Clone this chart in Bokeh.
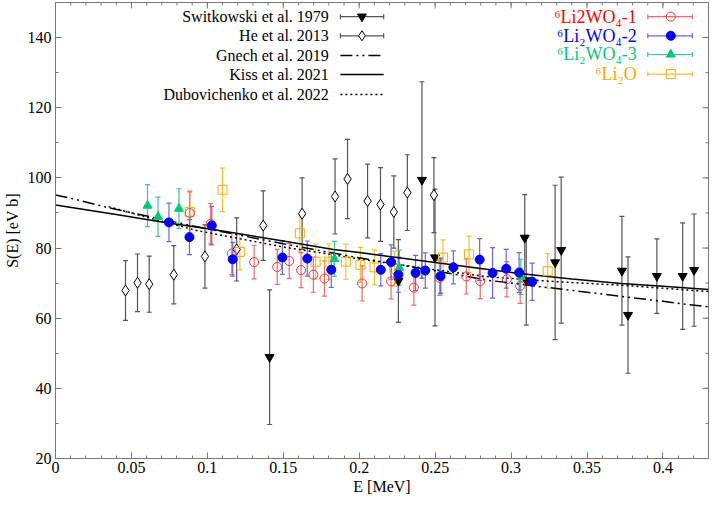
import numpy as np
from bokeh.plotting import figure
from bokeh.models import ColumnDataSource, Whisker, TeeHead, FixedTicker, Range1d
from bokeh.embed import file_html
from bokeh.resources import INLINE
from bokeh.core.properties import value

FONT = "Liberation Serif"

# ---------------- axis ticks ----------------
x_ticks = [0, 0.05, 0.1, 0.15, 0.2, 0.25, 0.3, 0.35, 0.4]
x_tick_labels = ["0", "0.05", "0.1", "0.15", "0.2", "0.25", "0.3", "0.35", "0.4"]
y_ticks = [20, 40, 60, 80, 100, 120, 140]
y_tick_labels = ["20", "40", "60", "80", "100", "120", "140"]

# ---------------- theory curves ----------------
kiss_E = [0, 0.02, 0.042, 0.07, 0.108, 0.15, 0.183, 0.2, 0.25, 0.285, 0.304, 0.34, 0.3725, 0.4, 0.43]
kiss_S = [92.3, 90.9, 89.4, 87.4, 85.0, 82.0, 79.6, 78.7, 75.9, 73.9, 72.8, 71.2, 69.9, 69.1, 68.2]

gnech_E = [0, 0.012, 0.033, 0.0525, 0.093, 0.15, 0.2, 0.25, 0.285, 0.304, 0.35, 0.4, 0.43]
gnech_S = [95.1, 94.0, 91.7, 89.8, 86.1, 81.2, 77.2, 73.5, 70.8, 69.8, 67.4, 64.8, 63.2]

dubo_E = [0.035, 0.06, 0.093, 0.15, 0.2, 0.25, 0.285, 0.33, 0.3725, 0.43]
dubo_S = [91.8, 88.8, 85.0, 80.3, 76.9, 73.8, 71.8, 70.4, 69.4, 67.6]

# ---------------- Switkowski et al. 1979 ----------------
swit_E = [0.141, 0.2258, 0.2413, 0.2499, 0.309, 0.310, 0.329, 0.333, 0.373, 0.377, 0.396, 0.413, 0.4205]
swit_S = [48.9, 70.6, 99.4, 77.3, 82.9, 70.8, 75.9, 79.4, 73.5, 60.9, 72.0, 72.0, 73.7]
swit_err = [19.2, 11.8, 28.0, 19.5, 12.3, 12.8, 22.0, 20.8, 15.5, 16.6, 10.6, 15.2, 16.0]

# ---------------- He et al. 2013 ----------------
he_E = [0.0461, 0.054, 0.0617, 0.0779, 0.0984, 0.1193, 0.1368, 0.1624, 0.1841, 0.1923,
        0.2055, 0.214, 0.2228, 0.2317, 0.2492]
he_S = [67.9, 70.1, 69.7, 72.4, 77.6, 79.6, 86.4, 89.8, 94.7, 99.7,
        93.4, 92.4, 90.3, 95.8, 95.1]
he_err = [8.5, 8.2, 8.0, 8.3, 9.0, 9.0, 9.9, 10.2, 10.7, 11.3,
          10.5, 10.5, 10.3, 10.8, 10.7]

# ---------------- 6Li2WO4-1 ----------------
w1_E = [0.0884, 0.1022, 0.1161, 0.1308, 0.146, 0.1539, 0.1617, 0.1698, 0.1771, 0.2019,
        0.221, 0.236, 0.253, 0.2705, 0.2797, 0.2972, 0.306]
w1_S = [90.0, 86.9, 78.4, 76.0, 74.6, 76.3, 73.7, 72.4, 71.3, 69.9,
        70.5, 68.7, 71.5, 71.9, 70.6, 71.1, 69.2]
w1_err = [6.0, 5.8, 6.0, 4.8, 5.0, 5.0, 5.0, 5.0, 5.0, 5.0,
          5.0, 5.0, 5.0, 5.0, 5.0, 5.0, 5.0]

# ---------------- 6Li2WO4-2 ----------------
w2_E = [0.0747, 0.0882, 0.1029, 0.1167, 0.1494, 0.1658, 0.1816, 0.2142, 0.221, 0.2258,
        0.2371, 0.2435, 0.2535, 0.262, 0.2793, 0.2878, 0.2968, 0.3053, 0.3139]
w2_S = [87.3, 83.1, 86.4, 76.8, 77.3, 77.0, 73.8, 73.8, 76.0, 72.4,
        72.9, 73.6, 72.0, 74.5, 76.7, 72.9, 74.1, 73.0, 70.4]
w2_err = [5.5, 5.0, 5.5, 4.8, 4.8, 5.0, 5.0, 4.6, 4.9, 5.0,
          5.0, 5.0, 5.0, 4.7, 6.0, 7.2, 5.5, 5.7, 5.3]

# ---------------- 6Li2WO4-3 ----------------
w3_E = [0.0606, 0.0675, 0.0813, 0.1837, 0.2264, 0.2537, 0.3064]
w3_S = [92.1, 88.9, 91.2, 76.9, 74.4, 72.2, 71.8]
w3_err = [6.0, 5.6, 5.7, 5.0, 5.0, 5.0, 5.0]

# ---------------- 6Li2O ----------------
lo_E = [0.0884, 0.110, 0.1214, 0.1609, 0.1713, 0.180, 0.1912, 0.2008, 0.21, 0.2232,
        0.2552, 0.2723, 0.3241]
lo_S = [90.3, 96.6, 78.9, 84.2, 76.1, 76.1, 76.1, 75.2, 74.5, 74.1,
        77.3, 78.2, 73.4]
lo_err = [6.0, 6.2, 5.1, 5.3, 5.0, 5.0, 5.0, 5.0, 5.0, 5.0,
          5.0, 5.2, 5.0]

left_legend_labels = ["Switkowski et al. 1979", "He et al. 2013", "Gnech et al. 2019",
                      "Kiss et al. 2021", "Dubovichenko et al. 2022"]
right_legend_labels = ["\u2076Li2WO\u2084-1", "\u2076Li\u2082WO\u2084-2",
                       "\u2076Li\u2082WO\u2084-3", "\u2076Li\u2082O"]

# ---------------- figure ----------------
X0, X1, Y0, Y1 = 0, 0.43, 20, 150
p = figure(width=710, height=497, x_range=Range1d(X0, X1), y_range=Range1d(Y0, Y1),
           output_backend="svg", toolbar_location=None,
           x_axis_label="E [MeV]", y_axis_label="S(E) [eV b]",
           min_border_left=4, min_border_right=2, min_border_top=2, min_border_bottom=2)
p.grid.visible = False
p.outline_line_color = "#777777"
p.background_fill_color = "white"
p.border_fill_color = "white"

x_minor = list(np.round(np.arange(0, 0.431, 0.01), 3))
y_minor = list(range(20, 151, 10))
xt = FixedTicker(ticks=x_ticks, minor_ticks=x_minor)
yt = FixedTicker(ticks=y_ticks, minor_ticks=y_minor)

for ax in (p.xaxis[0], p.yaxis[0]):
    ax.axis_line_color = "#777777"
    ax.major_tick_line_color = "#777777"
    ax.minor_tick_line_color = "#777777"
    ax.major_tick_in = 6
    ax.major_tick_out = 0
    ax.minor_tick_in = 3
    ax.minor_tick_out = 0
    ax.major_label_text_font = FONT
    ax.major_label_text_font_size = "16px"
    ax.major_label_text_color = "black"
    ax.axis_label_text_font = FONT
    ax.axis_label_text_font_size = "16px"
    ax.axis_label_text_font_style = "normal"
    ax.axis_label_text_color = "black"

p.xaxis.ticker = xt
p.yaxis.ticker = yt
p.xaxis.major_label_overrides = {t: l for t, l in zip(x_ticks, x_tick_labels)}
p.yaxis.major_label_overrides = {t: l for t, l in zip(y_ticks, y_tick_labels)}
p.xaxis.major_label_standoff = 3
p.xaxis.axis_label_standoff = 2
p.yaxis.major_label_standoff = 4
p.yaxis.axis_label_standoff = 4

# mirrored inward ticks on top and right frame edges (half of each dash is clipped by the frame)
p.scatter(x=x_ticks, y=[Y1] * len(x_ticks), marker="dash", angle=np.pi / 2, size=12,
          line_color="#777777", line_width=1)
p.scatter(x=x_minor, y=[Y1] * len(x_minor), marker="dash", angle=np.pi / 2, size=6,
          line_color="#777777", line_width=1)
p.scatter(x=[X1] * len(y_ticks), y=y_ticks, marker="dash", size=12,
          line_color="#777777", line_width=1)
p.scatter(x=[X1] * len(y_minor), y=y_minor, marker="dash", size=6,
          line_color="#777777", line_width=1)

# ---------------- theory curves ----------------
p.line(kiss_E, kiss_S, line_color="black", line_width=1.5)
p.line(gnech_E, gnech_S, line_color="black", line_width=1.5, line_dash="12 4 2 4 2 4")
p.line(dubo_E, dubo_S, line_color="black", line_width=1.5, line_dash="2 3")

# ---------------- data with error bars ----------------
def series(E, S, err, bar_color, marker, size, line_color, fill_color, line_width=1.0):
    src = ColumnDataSource(dict(x=E, y=S,
                                lo=[s - e for s, e in zip(S, err)],
                                hi=[s + e for s, e in zip(S, err)]))
    w = Whisker(source=src, base="x", lower="lo", upper="hi", dimension="height",
                line_color=bar_color, line_width=1.2,
                lower_head=TeeHead(size=5, line_color=bar_color, line_width=1.2),
                upper_head=TeeHead(size=5, line_color=bar_color, line_width=1.2))
    p.add_layout(w)
    p.scatter("x", "y", source=src, marker=marker, size=size, line_color=line_color,
              fill_color=fill_color, line_width=line_width)

series(he_E, he_S, he_err, "#555555", "diamond", 11, "black", "white")
series(swit_E, swit_S, swit_err, "#555555", "inverted_triangle", 9, "black", "black")
series(lo_E, lo_S, lo_err, "#ffbb33", "square", 9, "#ffaa00", None)
series(w1_E, w1_S, w1_err, "#ff6666", "circle", 9, "#ff3333", None)
series(w3_E, w3_S, w3_err, "#33cc88", "triangle", 9, "#00c878", "#00c878")
series(w2_E, w2_S, w2_err, "#6666ff", "circle", 9, "#0000ff", "#0000ff")

# ---------------- legends (drawn at axis-fraction positions) ----------------
def fx(f):
    return X0 + f * (X1 - X0)

def fy(f):
    return Y0 + f * (Y1 - Y0)

# left legend
l_rows = [fy(f) for f in (0.969, 0.927, 0.884, 0.842, 0.798)]
l_text_x, l_line0, l_line1, l_mark = fx(0.4186), fx(0.4363), fx(0.5026), fx(0.4693)
p.text(x=[l_text_x] * 5, y=l_rows, text=left_legend_labels, text_font=value(FONT),
       text_font_size="16px", text_align="right", text_baseline="middle", text_color="black")
for i, (style, marker, fill) in enumerate([("bar", "inverted_triangle", "black"),
                                           ("bar", "diamond", "white"),
                                           ("12 4 2 4 2 4", None, None),
                                           ("solid", None, None),
                                           ("2 3", None, None)]):
    yy = l_rows[i]
    if style == "bar":
        p.segment(x0=[l_line0], y0=[yy], x1=[l_line1], y1=[yy], line_color="#555555", line_width=1.2)
        p.scatter(x=[l_line0, l_line1], y=[yy, yy], marker="dash", angle=np.pi / 2, size=5,
                  line_color="#555555", line_width=1.2)
        p.scatter(x=[l_mark], y=[yy], marker=marker, size=9 if marker != "diamond" else 10,
                  line_color="black", fill_color=fill)
    else:
        p.segment(x0=[l_line0], y0=[yy], x1=[l_line1], y1=[yy], line_color="black",
                  line_width=1.5, line_dash=style)

# right legend
r_rows = [fy(f) for f in (0.969, 0.927, 0.886, 0.843)]
r_text_x, r_line0, r_line1, r_mark = fx(0.8902), fx(0.907), fx(0.9753), fx(0.9423)
r_text_colors = ["#ff0000", "#0000ff", "#00c878", "#ffa500"]
r_bar_colors = ["#ff6666", "#6666ff", "#33cc88", "#ffbb33"]
r_markers = [("circle", 9, "#ff3333", None), ("circle", 9, "#0000ff", "#0000ff"),
             ("triangle", 9, "#00c878", "#00c878"), ("square", 9, "#ffaa00", None)]
p.text(x=[r_text_x] * 4, y=r_rows, text=right_legend_labels, text_font=value(FONT),
       text_font_size="18px", text_align="right", text_baseline="middle",
       text_color=r_text_colors)
for i in range(4):
    yy = r_rows[i]
    c = r_bar_colors[i]
    p.segment(x0=[r_line0], y0=[yy], x1=[r_line1], y1=[yy], line_color=c, line_width=1.2)
    p.scatter(x=[r_line0, r_line1], y=[yy, yy], marker="dash", angle=np.pi / 2, size=5,
              line_color=c, line_width=1.2)
    m, s, lc, fc = r_markers[i]
    p.scatter(x=[r_mark], y=[yy], marker=m, size=s, line_color=lc, fill_color=fc)

open("out.html", "w").write(file_html(p, INLINE))
